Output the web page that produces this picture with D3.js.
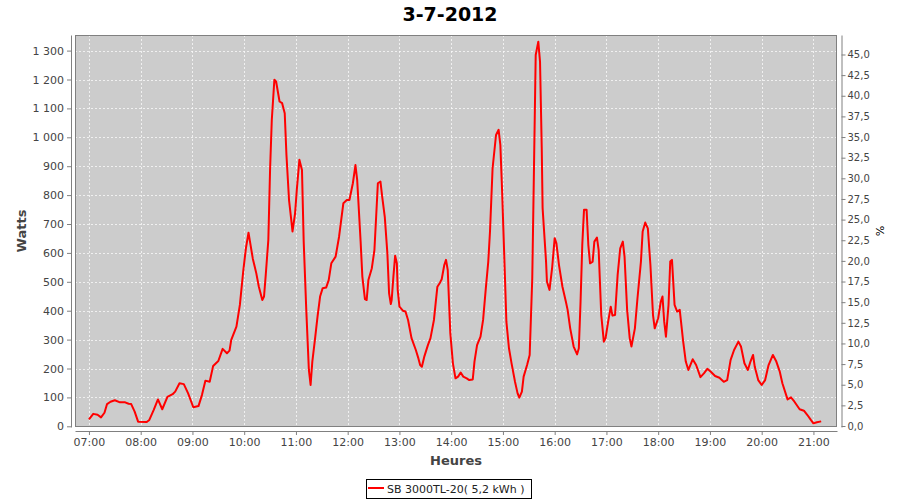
<!DOCTYPE html>
<html>
<head>
<meta charset="utf-8">
<script src="https://cdn.jsdelivr.net/npm/d3@7/dist/d3.min.js"></script>
<style>
  html, body { margin: 0; padding: 0; background: #fff; }
  svg { display: block; font-family: "DejaVu Sans", sans-serif; }
</style>
</head>
<body>
<svg id="chart" width="900" height="500"></svg>
<script>
const chartTitle = "3-7-2012";
const xAxisLabel = "Heures";
const yAxisLabel = "Watts";
const y2AxisLabel = "%";
const seriesName = "SB 3000TL-20( 5,2 kWh )";

const times = ["07:00","07:05","07:10","07:14","07:18","07:21","07:25","07:30","07:36","07:42","07:46","07:49","07:53","07:57",
"08:07","08:10","08:15","08:20","08:25","08:31","08:37","08:40","08:45","08:50","08:55",
"09:01","09:07","09:11","09:15","09:20","09:24","09:30","09:35","09:40","09:43","09:45","09:51","09:55","09:59",
"10:02","10:05","10:10","10:14","10:17","10:21","10:23","10:25","10:28","10:30","10:32","10:35","10:37","10:41","10:44","10:47","10:49","10:52","10:55","10:56","10:59",
"11:01","11:04","11:07","11:09","11:12","11:15","11:17","11:19","11:22","11:25","11:28","11:31","11:35","11:38","11:41","11:46","11:50","11:55","11:59",
"12:02","12:06","12:09","12:11","12:15","12:17","12:20","12:22","12:24","12:28","12:31","12:33","12:35","12:38","12:40","12:43","12:46","12:48","12:50","12:51","12:53","12:55","12:57","12:58",
"13:00","13:04","13:07","13:10","13:14","13:19","13:22","13:24","13:26","13:29","13:33","13:36","13:40","13:42","13:44","13:47","13:49","13:52","13:54","13:56","13:59",
"14:02","14:05","14:08","14:11","14:14","14:18","14:21","14:25","14:27","14:30","14:34","14:37","14:40","14:43","14:45","14:48","14:52","14:55","14:57","14:59",
"15:02","15:04","15:07","15:10","15:14","15:17","15:19","15:22","15:24","15:28","15:31","15:34","15:36","15:38","15:41","15:43","15:45","15:46","15:50","15:51","15:54","15:57",
"16:00","16:02","16:05","16:09","16:13","16:15","16:18","16:22","16:26","16:28","16:30","16:32","16:34","16:37","16:39","16:41","16:44","16:46","16:49","16:51","16:54","16:57","16:59",
"17:02","17:05","17:07","17:10","17:13","17:16","17:19","17:21","17:24","17:27","17:29","17:33","17:36","17:40","17:42","17:45","17:48","17:51","17:54","17:56",
"18:00","18:03","18:05","18:07","18:09","18:12","18:14","18:16","18:19","18:22","18:25","18:29","18:32","18:35","18:40","18:44","18:49","18:53","18:57",
"19:01","19:06","19:11","19:16","19:20","19:24","19:28","19:33","19:36","19:40","19:44","19:47","19:50","19:52","19:56",
"20:00","20:04","20:08","20:13","20:17","20:21","20:24","20:30","20:34","20:38","20:44","20:49","20:53","20:57",
"21:00","21:04","21:09"];

const watts = [24,43,40,31,47,77,85,90,83,83,78,77,51,16,
15,22,56,93,59,102,111,120,149,146,114,
66,70,108,158,154,209,226,268,253,262,299,345,420,540,
616,670,580,530,483,437,449,524,645,887,1060,1199,1193,1124,1118,1083,939,783,703,674,737,
818,922,887,639,402,195,143,224,299,379,449,478,480,506,564,587,656,772,783,
783,841,904,853,639,518,440,437,506,547,610,725,841,847,795,725,599,460,423,437,518,590,564,472,
414,400,397,368,305,264,235,212,206,243,281,305,368,426,483,497,509,558,576,541,322,
218,166,172,186,172,166,160,162,224,281,310,368,472,570,674,893,1008,1026,974,818,
547,362,270,218,154,114,99,120,172,212,247,512,893,1285,1331,1262,962,755,570,501,472,547,
651,633,558,483,431,403,339,276,249,270,431,628,749,749,628,564,570,639,653,610,385,293,305,
362,414,383,385,524,616,639,587,403,305,276,339,443,570,674,705,685,558,385,339,
374,431,449,362,310,420,570,576,420,397,403,293,224,195,232,212,170,183,199,
189,174,168,154,160,230,264,293,276,218,195,224,247,206,160,
143,160,212,247,224,189,149,93,100,85,59,54,39,22,
10,14,17];

const xDomain = ["06:43:50", "21:27:20"];
const yDomain = [-2.4, 1354];
const y2Domain = [-0.12, 47.36];
const xTickHours = [7,8,9,10,11,12,13,14,15,16,17,18,19,20,21];
const yTicks = d3.range(0, 1301, 100);
const y2Ticks = d3.range(0, 45.01, 2.5);

const parseT = d3.timeParse("%Y-%m-%d %H:%M");
const parseTS = d3.timeParse("%Y-%m-%d %H:%M:%S");
const day = "2012-07-03";
const data = times.map((t, i) => ({ t: parseT(day + " " + t), v: watts[i] }));

const locale = d3.formatLocale({ decimal: ",", thousands: " ", grouping: [3], currency: ["", ""] });
const fmtInt = locale.format(",d");
const fmtPct = locale.format(".1f");

const svg = d3.select("#chart");
const plot = { left: 75, right: 837, top: 35, bottom: 427 };

const x = d3.scaleTime()
  .domain(xDomain.map(s => parseTS(day + " " + s)))
  .range([plot.left, plot.right]);
const y = d3.scaleLinear().domain(yDomain).range([plot.bottom, plot.top]);
const y2 = d3.scaleLinear().domain(y2Domain).range([plot.bottom, plot.top]);
const xTicks = xTickHours.map(h => parseT(day + " " + String(h).padStart(2, "0") + ":00"));

// Title
svg.append("text")
  .attr("x", 450).attr("y", 21)
  .attr("text-anchor", "middle")
  .attr("font-size", 19).attr("font-weight", "bold")
  .attr("fill", "#000")
  .text(chartTitle);

// Plot background
svg.append("rect")
  .attr("x", plot.left).attr("y", plot.top)
  .attr("width", plot.right - plot.left).attr("height", plot.bottom - plot.top)
  .attr("fill", "#cccccc");

// Gridlines
const grid = svg.append("g").attr("stroke", "#ffffff").attr("stroke-width", 0.8)
  .attr("stroke-dasharray", "2,2").attr("opacity", 0.9);
grid.selectAll("line.v").data(xTicks).join("line")
  .attr("x1", d => Math.round(x(d)) + 0.5).attr("x2", d => Math.round(x(d)) + 0.5)
  .attr("y1", plot.top).attr("y2", plot.bottom);
grid.selectAll("line.h").data(yTicks).join("line")
  .attr("y1", d => Math.round(y(d)) + 0.5).attr("y2", d => Math.round(y(d)) + 0.5)
  .attr("x1", plot.left).attr("x2", plot.right);

// Plot outline
svg.append("rect")
  .attr("x", plot.left + 0.5).attr("y", plot.top + 0.5)
  .attr("width", plot.right - plot.left - 1).attr("height", plot.bottom - plot.top - 1)
  .attr("fill", "none").attr("stroke", "#808080").attr("stroke-width", 1);

// Line
const line = d3.line().x(d => x(d.t)).y(d => y(d.v));
svg.append("path")
  .datum(data)
  .attr("d", line)
  .attr("fill", "none")
  .attr("stroke", "#ff0000")
  .attr("stroke-width", 2)
  .attr("stroke-linejoin", "round");

function styleAxis(g, size) {
  g.select(".domain").attr("stroke", "#808080");
  g.selectAll(".tick line").attr("stroke", "#808080");
  g.selectAll(".tick text").attr("fill", "#444").attr("font-size", size)
    .attr("font-family", "DejaVu Sans, sans-serif");
}

// Bottom axis
const gx = svg.append("g").attr("transform", `translate(0,${plot.bottom + 4})`)
  .call(d3.axisBottom(x).tickValues(xTicks).tickFormat(d3.timeFormat("%H:%M")).tickSize(4).tickSizeOuter(0));
styleAxis(gx, 11);

// Left axis
const gy = svg.append("g").attr("transform", `translate(${plot.left - 4},0)`)
  .call(d3.axisLeft(y).tickValues(yTicks).tickFormat(fmtInt).tickSize(4).tickSizeOuter(0).tickPadding(3));
styleAxis(gy, 11);

// Right axis
const gy2 = svg.append("g").attr("transform", `translate(${plot.right + 4.5},0)`)
  .call(d3.axisRight(y2).tickValues(y2Ticks).tickFormat(fmtPct).tickSize(4).tickSizeOuter(0).tickPadding(2));
styleAxis(gy2, 10);

// Axis labels
svg.append("text")
  .attr("x", (plot.left + plot.right) / 2).attr("y", 465)
  .attr("text-anchor", "middle").attr("font-size", 13).attr("font-weight", "bold")
  .attr("fill", "#444").text(xAxisLabel);
svg.append("text")
  .attr("transform", `translate(26,${(plot.top + plot.bottom) / 2}) rotate(-90)`)
  .attr("text-anchor", "middle").attr("font-size", 13).attr("font-weight", "bold")
  .attr("fill", "#444").text(yAxisLabel);
svg.append("text")
  .attr("transform", `translate(876,${(plot.top + plot.bottom) / 2}) rotate(90)`)
  .attr("text-anchor", "middle").attr("font-size", 11)
  .attr("fill", "#000").text(y2AxisLabel);

// Legend
const lg = svg.append("g");
lg.append("rect").attr("x", 366.5).attr("y", 479.5).attr("width", 165).attr("height", 19)
  .attr("fill", "#fff").attr("stroke", "#000").attr("stroke-width", 1);
lg.append("line").attr("x1", 368).attr("x2", 384).attr("y1", 488).attr("y2", 488)
  .attr("stroke", "#ff0000").attr("stroke-width", 2);
lg.append("text").attr("x", 387).attr("y", 492.5).attr("font-size", 11)
  .attr("fill", "#222").text(seriesName);
</script>
</body>
</html>
